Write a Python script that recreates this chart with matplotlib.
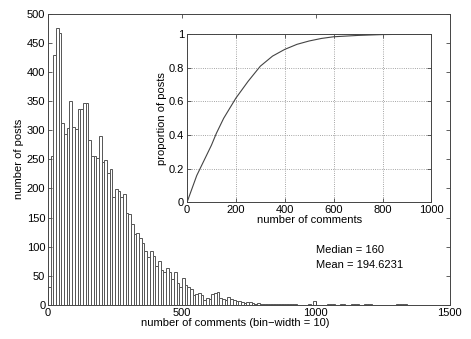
import matplotlib
matplotlib.use("Agg")
import matplotlib.pyplot as plt
import numpy as np

plt.rcParams['font.family'] = ['Liberation Sans', 'DejaVu Sans']
plt.rcParams['font.size'] = 8

# histogram of comments per post, bins of width 10 starting at 0
bin_width = 10
counts = [
    30, 255, 430, 475, 468, 312, 294, 303, 351, 306,   # 0-99
    302, 337, 336, 346, 346, 284, 256, 256, 253, 290,  # 100-199
    246, 248, 226, 234, 186, 199, 195, 185, 191, 157,  # 200-299
    156, 139, 122, 124, 114, 107, 93, 82, 93, 84,      # 300-399
    67, 76, 59, 56, 64, 56, 45, 56, 38, 30,            # 400-499
    46, 34, 31, 27, 17, 19, 21, 16, 9, 12,             # 500-599
    10, 19, 20, 22, 12, 10, 8, 13, 10, 8,              # 600-699
    7, 6, 4, 3, 4, 4, 3, 2, 3, 2,                      # 700-799
    2, 2, 2, 1, 1, 1, 1, 1, 1, 1,                      # 800-899
    1, 1, 1, 0, 0, 0, 0, 1, 0, 6,                      # 900-999
    0, 0, 0, 0, 1, 1, 1, 0, 0, 1,                      # 1000-1099
    1, 0, 0, 1, 1, 1, 0, 0, 1, 1,                      # 1100-1199
    1, 0, 0, 0, 0, 0, 0, 0, 0, 0,                      # 1200-1299
    1, 1, 1, 1,                                        # 1300-1339
]
bin_edges = np.arange(len(counts)) * bin_width

# cumulative proportion (inset)
cdf_x = [0, 20, 40, 60, 80, 100, 120, 150, 200, 250, 300, 350, 400,
         450, 500, 550, 600, 700, 800, 900, 1000]
cdf_y = [0, 0.08, 0.16, 0.22, 0.28, 0.34, 0.41, 0.50, 0.62, 0.72, 0.81,
         0.87, 0.91, 0.94, 0.96, 0.975, 0.985, 0.993, 0.998, 1.0, 1.0]

median_txt = "Median = 160"
mean_txt = "Mean = 194.6231"

edge = '#444444'

fig = plt.figure(figsize=(4.71, 3.39), dpi=100)
ax = fig.add_axes([0.102, 0.101, 0.853, 0.858])
ax.bar(bin_edges, counts, width=bin_width, align='edge',
       facecolor='white', edgecolor='#555555', linewidth=0.7)
ax.set_xlim(0, 1500)
ax.set_ylim(0, 500)
ax.set_xticks([0, 500, 1000, 1500])
ax.set_yticks(np.arange(0, 501, 50))
ax.tick_params(direction='in', top=True, right=True, length=3,
               width=0.6, colors=edge, labelcolor='black', pad=2)
for s in ax.spines.values():
    s.set_color(edge)
    s.set_linewidth(0.7)
ax.set_xlabel("number of comments (bin\u2212width = 10)", labelpad=0)
ax.xaxis.set_label_coords(0.465, -0.045, transform=ax.transAxes)
ax.xaxis.label.set_va('top')
ax.set_ylabel("number of posts", labelpad=2)
ax.text(1000, 94, median_txt, va='center', ha='left')
ax.text(1000, 68, mean_txt, va='center', ha='left')

# inset with cumulative distribution
ax2 = fig.add_axes([0.397, 0.403, 0.519, 0.496])
ax2.plot(cdf_x, cdf_y, color='#444444', linewidth=0.8)
ax2.set_xlim(0, 1000)
ax2.set_ylim(0, 1)
ax2.set_xticks(np.arange(0, 1001, 200))
ax2.set_yticks([0, 0.2, 0.4, 0.6, 0.8, 1])
ax2.set_yticklabels(['0', '0.2', '0.4', '0.6', '0.8', '1'])
ax2.grid(True, linestyle=':', color='#888888', linewidth=0.6)
ax2.tick_params(direction='in', top=True, right=True, length=3,
                width=0.6, colors=edge, labelcolor='black', pad=2)
for s in ax2.spines.values():
    s.set_color(edge)
    s.set_linewidth(0.7)
ax2.set_xlabel("number of comments", labelpad=0)
ax2.set_ylabel("proportion of posts", labelpad=1)

fig.savefig("out.png", dpi=100)
